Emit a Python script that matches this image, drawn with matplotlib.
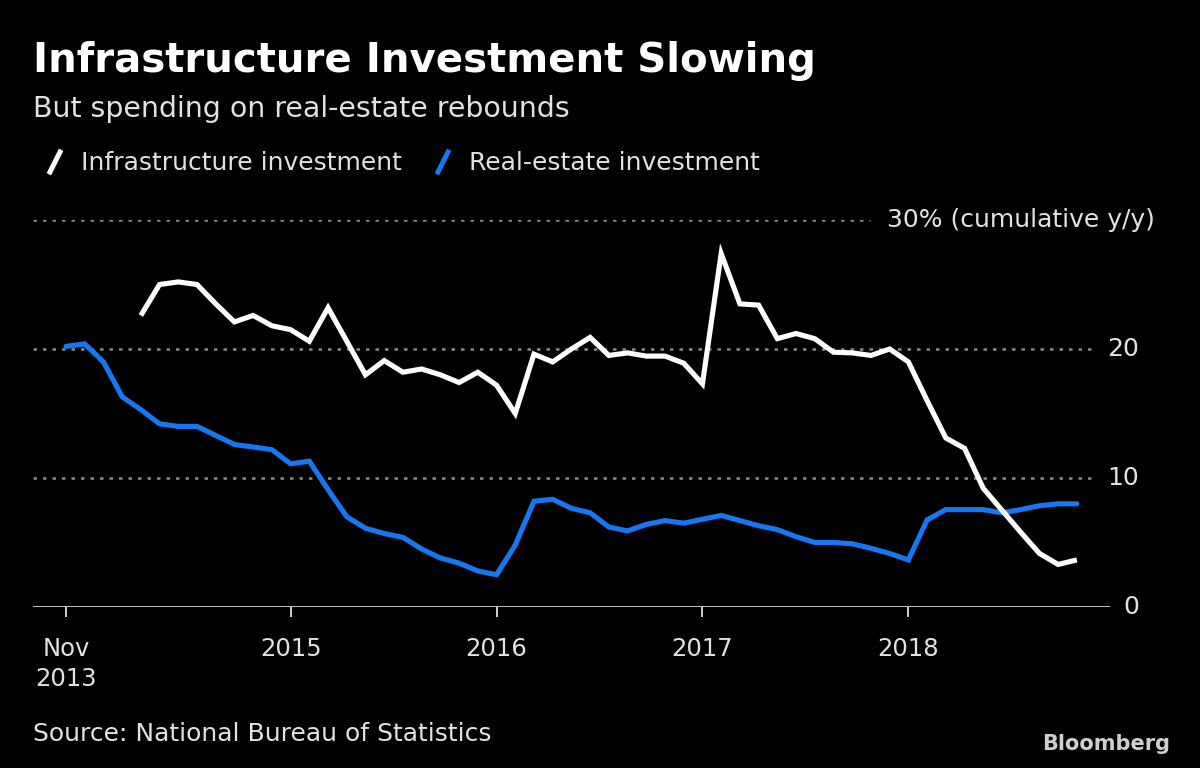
import matplotlib
matplotlib.use("Agg")
import matplotlib.pyplot as plt
from matplotlib.lines import Line2D
import matplotlib.transforms as mtransforms

# ---- data ----
month_names = ['Feb', 'Mar', 'Apr', 'May', 'Jun', 'Jul', 'Aug', 'Sep', 'Oct', 'Nov', 'Dec']
months = ['Nov 2013', 'Dec 2013'] + [f'{m} {y}' for y in (2014, 2015, 2016, 2017) for m in month_names] \
         + [f'{m} 2018' for m in month_names[:9]]

real_estate = [20.2, 20.4, 19.0, 16.3, 15.3, 14.2, 14.0, 14.0, 13.3, 12.6, 12.4, 12.2, 11.1,
               11.3, 9.1, 7.0, 6.1, 5.7, 5.4, 4.5, 3.8, 3.4, 2.8, 2.5,
               4.8, 8.2, 8.35, 7.65, 7.3, 6.2, 5.9, 6.4, 6.7, 6.5, 6.8,
               7.1, 6.7, 6.3, 6.0, 5.45, 5.0, 5.0, 4.9, 4.55, 4.15, 3.65,
               6.75, 7.55, 7.55, 7.55, 7.3, 7.55, 7.85, 8.0, 8.0]

infra_start = 'Apr 2014'
infrastructure = [22.6, 25.0, 25.2, 25.0, 23.5, 22.1, 22.6, 21.8, 21.5,
                  20.6, 23.2, 20.6, 18.0, 19.1, 18.2, 18.45, 18.0, 17.4, 18.2, 17.2,
                  15.0, 19.6, 19.0, 20.0, 20.9, 19.5, 19.7, 19.45, 19.45, 18.9, 17.3,
                  27.4, 23.5, 23.4, 20.8, 21.2, 20.8, 19.75, 19.7, 19.5, 20.0, 19.0,
                  16.0, 13.1, 12.3, 9.2, 7.5, 5.8, 4.15, 3.3, 3.65]

tick_months = ['Nov 2013', 'Dec 2014', 'Dec 2015', 'Dec 2016', 'Dec 2017']
tick_labels = ['Nov\n2013', '2015', '2016', '2017', '2018']
y_gridlines = [10, 20, 30]
y_labels = ['10', '20', '30% (cumulative y/y)']

# ---- style ----
BG = '#000000'
WHITE = '#ffffff'
BLUE = '#1677f2'
GRID = '#8a8a8a'
TEXT = '#e2e2e2'
plt.rcParams['font.family'] = ['DejaVu Sans']

fig = plt.figure(figsize=(12, 7.68), dpi=100, facecolor=BG)
ax = fig.add_axes([33 / 1200, 1 - 607 / 768, (1110 - 33) / 1200, (607 - 220) / 768])
ax.set_facecolor(BG)

x_all = list(range(len(months)))
i0 = months.index(infra_start)
x_infra = x_all[i0:i0 + len(infrastructure)]

ax.plot(x_all[:len(real_estate)], real_estate, color=BLUE, lw=3.7, solid_joinstyle='miter',
        solid_capstyle='round', zorder=3)
ax.plot(x_infra, infrastructure, color=WHITE, lw=3.7, solid_joinstyle='miter',
        solid_capstyle='butt', zorder=4)

ax.set_xlim(-1.76, 55.77)
ax.set_ylim(0, 30)

# gridlines
for v in y_gridlines:
    xmax = 0.777 if v == 30 else 0.986
    ax.axhline(v, xmin=0, xmax=xmax, color=GRID, lw=1.8, ls=(0, (1.4, 2.4)), zorder=1)
ax.axhline(0, color='#d0d0d0', lw=2.0, zorder=2)

for s in ax.spines.values():
    s.set_visible(False)

# y labels on right
ytrans = mtransforms.blended_transform_factory(ax.transAxes, ax.transData)
for v, lab in zip([0] + y_gridlines, ['0'] + y_labels):
    xr = 1155 if v == 30 else 1139
    ax.text((xr - 33) / 1077, v, lab, transform=ytrans, ha='right', va='center',
            color=TEXT, fontsize=18)
ax.set_yticks([])

# x ticks
ax.set_xticks([months.index(m) for m in tick_months])
ax.set_xticklabels(tick_labels, color=TEXT, fontsize=17.5, linespacing=1.3)
ax.tick_params(axis='x', length=7.5, width=1.4, color='#d0d0d0', pad=14)

# titles
fig.text(33 / 1200, 1 - 72 / 768, 'Infrastructure Investment Slowing', color=WHITE,
         fontsize=29, fontweight='bold', ha='left', va='baseline')
fig.text(33 / 1200, 1 - 117 / 768, 'But spending on real-estate rebounds', color=TEXT,
         fontsize=20.4, ha='left', va='baseline')

# legend
for (x0, col, lab) in [(50, WHITE, 'Infrastructure investment'), (438, BLUE, 'Real-estate investment')]:
    fig.add_artist(Line2D([x0 / 1200, (x0 + 10) / 1200], [1 - 172 / 768, 1 - 152 / 768],
                          color=col, lw=3.6, transform=fig.transFigure))
    fig.text((x0 + 31) / 1200, 1 - 170 / 768, lab, color=TEXT, fontsize=18,
             ha='left', va='baseline')

# footer
fig.text(33 / 1200, 1 - 741 / 768, 'Source: National Bureau of Statistics', color=TEXT,
         fontsize=18, ha='left', va='baseline')
fig.text(1170 / 1200, 1 - 750 / 768, 'Bloomberg', color='#cfcfcf', fontsize=15,
         fontweight='bold', ha='right', va='baseline')

fig.savefig('out.png', dpi=100, facecolor=BG)
